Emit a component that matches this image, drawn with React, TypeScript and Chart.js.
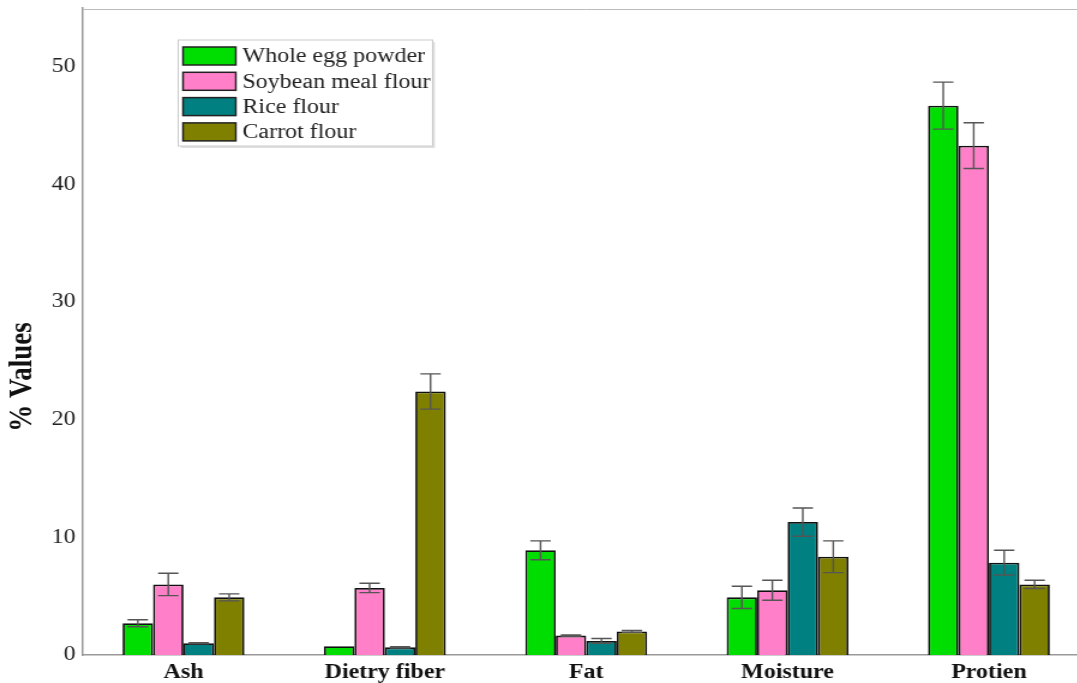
import React, { useEffect, useRef } from 'react';
import { Chart, registerables } from 'chart.js';

Chart.register(...registerables);

// ---- data ----
const categories = ['Ash', 'Dietry fiber', 'Fat', 'Moisture', 'Protien'];
const seriesNames = ['Whole egg powder', 'Soybean meal flour', 'Rice flour', 'Carrot flour'];
const seriesColors = ['#00DD00', '#FF80C8', '#008080', '#808000'];

const wholeEggPowder = [2.7, 0.75, 8.9, 4.9, 46.7];
const wholeEggPowderErr = [0.3, 0, 0.8, 0.95, 2.0];
const soybeanMealFlour = [6.0, 5.7, 1.65, 5.5, 43.3];
const soybeanMealFlourErr = [0.95, 0.4, 0.05, 0.85, 1.95];
const riceFlour = [1.0, 0.65, 1.2, 11.3, 7.85];
const riceFlourErr = [0.05, 0.05, 0.2, 1.2, 1.05];
const carrotFlour = [4.9, 22.4, 2.0, 8.35, 6.0];
const carrotFlourErr = [0.3, 1.5, 0.08, 1.35, 0.35];

const yTickLabels = [0, 10, 20, 30, 40, 50];
const yTitle = '% Values';

// ---- layout constants ----
const STRETCH = 1.2;
const CANVAS_W = 908;
const CANVAS_H = 683;
const SERIF = '"Liberation Serif", "Times New Roman", serif';

const errorBarPlugin = {
  id: 'errorBars',
  afterDatasetsDraw(chart: any) {
    const ctx = chart.ctx;
    const yScale = chart.scales.y;
    chart.data.datasets.forEach((ds: any, i: number) => {
      const meta = chart.getDatasetMeta(i);
      meta.data.forEach((bar: any, j: number) => {
        const v = ds.data[j];
        const e = ds.errors[j];
        if (!e) return;
        const yTop = yScale.getPixelForValue(v + e);
        const yBot = yScale.getPixelForValue(v - e);
        const x = bar.x;
        const half = 8.5;
        ctx.save();
        ctx.strokeStyle = '#555';
        ctx.lineWidth = 1.4;
        ctx.beginPath();
        ctx.moveTo(x, yTop);
        ctx.lineTo(x, yBot);
        ctx.moveTo(x - half, yTop);
        ctx.lineTo(x + half, yTop);
        ctx.moveTo(x - half, yBot);
        ctx.lineTo(x + half, yBot);
        ctx.stroke();
        ctx.restore();
      });
    });
  },
};

const decorPlugin = {
  id: 'decor',
  afterDraw(chart: any) {
    const ctx = chart.ctx;
    const area = chart.chartArea;
    ctx.save();
    // top frame line
    ctx.strokeStyle = '#bbbbbb';
    ctx.lineWidth = 1;
    ctx.beginPath();
    ctx.moveTo(area.left, area.top + 1.5);
    ctx.lineTo(area.right, area.top + 1.5);
    ctx.stroke();

    // y title
    ctx.save();
    ctx.translate(19, 377);
    ctx.rotate(-Math.PI / 2);
    ctx.fillStyle = '#111';
    ctx.font = `bold 27px ${SERIF}`;
    ctx.textAlign = 'center';
    ctx.textBaseline = 'middle';
    ctx.fillText(yTitle, 0, 0);
    ctx.restore();

    // legend
    const lx = 148.5;
    const ly = 40;
    const lw = 212;
    const lh = 106;
    ctx.fillStyle = 'rgba(0,0,0,0.12)';
    ctx.fillRect(lx + 2, ly + 2, lw, lh);
    ctx.fillStyle = '#ffffff';
    ctx.fillRect(lx, ly, lw, lh);
    ctx.strokeStyle = '#cccccc';
    ctx.lineWidth = 1;
    ctx.strokeRect(lx, ly, lw, lh);
    chart.data.datasets.forEach((ds: any, i: number) => {
      const sy = 47 + i * 25.3;
      ctx.fillStyle = ds.backgroundColor;
      ctx.fillRect(152.5, sy, 44, 18);
      ctx.strokeStyle = '#222';
      ctx.lineWidth = 1.5;
      ctx.strokeRect(152.5, sy, 44, 18);
      ctx.fillStyle = '#222';
      ctx.font = `20px ${SERIF}`;
      ctx.textAlign = 'left';
      ctx.textBaseline = 'middle';
      ctx.fillText(ds.label, 202, sy + 10);
    });
    ctx.restore();
  },
};

export default function App() {
  const ref = useRef<HTMLCanvasElement | null>(null);

  useEffect(() => {
    if (!ref.current) return;
    const values = [wholeEggPowder, soybeanMealFlour, riceFlour, carrotFlour];
    const errs = [wholeEggPowderErr, soybeanMealFlourErr, riceFlourErr, carrotFlourErr];
    const chart = new Chart(ref.current, {
      type: 'bar',
      data: {
        labels: categories,
        datasets: seriesNames.map((name, i) => ({
          label: name,
          data: values[i],
          errors: errs[i],
          backgroundColor: seriesColors[i],
          borderColor: '#111',
          borderWidth: 1.8,
          borderSkipped: 'bottom',
          categoryPercentage: 0.605,
          barPercentage: 1.0,
        })) as any,
      },
      options: {
        responsive: false,
        animation: false,
        devicePixelRatio: 1,
        layout: { autoPadding: false, padding: { top: 8, left: 0, right: 0, bottom: 0 } },
        plugins: {
          legend: { display: false },
          tooltip: { enabled: false },
          title: { display: false },
        },
        scales: {
          x: {
            type: 'category',
            offset: true,
            grid: { display: false, drawTicks: false },
            border: { display: true, color: '#999', width: 1.5 },
            ticks: {
              color: '#111',
              padding: 6,
              font: { family: SERIF, size: 20, weight: 'bold' },
            },
            afterFit: (s: any) => {
              s.height = 28;
              s.paddingLeft = 0;
              s.paddingRight = 0;
              s.paddingTop = 0;
              s.paddingBottom = 0;
            },
          },
          y: {
            type: 'linear',
            min: 0,
            max: 55,
            grid: { display: false, drawTicks: false },
            border: { display: true, color: '#999', width: 1.5 },
            ticks: {
              stepSize: 10,
              padding: 6,
              color: '#222',
              font: { family: SERIF, size: 20 },
              callback: (v: any) => (yTickLabels.includes(Number(v)) ? String(v) : ''),
            },
            afterFit: (s: any) => {
              s.width = 69;
              s.paddingLeft = 0;
              s.paddingRight = 0;
              s.paddingTop = 0;
              s.paddingBottom = 0;
            },
          },
        },
      } as any,
      plugins: [errorBarPlugin, decorPlugin],
    });
    return () => chart.destroy();
  }, []);

  return (
    <div
      style={{
        position: 'fixed',
        left: 0,
        top: 0,
        width: 1077,
        height: 683,
        overflow: 'hidden',
        background: '#fff',
      }}
    >
      <canvas
        ref={ref}
        width={CANVAS_W}
        height={CANVAS_H}
        style={{
          display: 'block',
          transform: `scaleX(${STRETCH})`,
          transformOrigin: '0 0',
        }}
      />
    </div>
  );
}
